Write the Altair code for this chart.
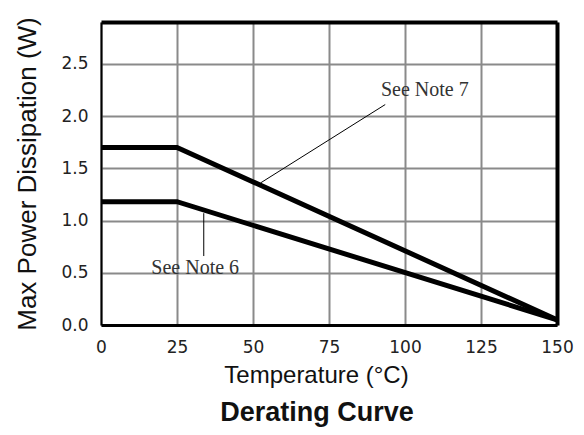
import altair as alt
import pandas as pd

# ---- data ----
temp_c = [0, 25, 150]
note7_w = [1.70, 1.70, 0.05]
note6_w = [1.18, 1.18, 0.05]
series_names = ["See Note 7", "See Note 6"]

x_ticks = [0, 25, 50, 75, 100, 125, 150]
y_ticks = [0.0, 0.5, 1.0, 1.5, 2.0, 2.5]

note_text = ["See Note 7", "See Note 6"]
note_x = [106.5, 31.0]
note_y = [2.25, 0.545]

leader_x = [52.5, 33.8]
leader_y = [1.36, 1.07]
leader_x2 = [93.5, 33.8]
leader_y2 = [2.11, 0.66]

rows = []
for name, vals in zip(series_names, [note7_w, note6_w]):
    for t, p in zip(temp_c, vals):
        rows.append({"series": name, "temp": t, "power": p})
lines_df = pd.DataFrame(rows)
notes_df = pd.DataFrame({"text": note_text, "x": note_x, "y": note_y})
leaders_df = pd.DataFrame({"x": leader_x, "y": leader_y, "x2": leader_x2, "y2": leader_y2})

x_scale = alt.Scale(domain=[0, 150], nice=False, zero=False)
y_scale = alt.Scale(domain=[0, 2.9], nice=False)

GRID = "#8a8a8a"

x_axis = alt.Axis(
    orient="bottom", values=x_ticks, title="Temperature (°C)", grid=True, ticks=False,
    labelPadding=14, labelFlush=False, labelOverlap=False,
    domainWidth=3, domainColor="black", gridColor=GRID, gridWidth=2,
    labelFont="DejaVu Sans", labelFontSize=17, labelColor="#222",
    titleFont="Liberation Sans", titleFontSize=24, titleFontWeight="normal",
    titleColor="#111", titlePadding=8, titleX=215,
)
y_axis = alt.Axis(
    orient="left", values=y_ticks, format=".1f", title="Max Power Dissipation (W)",
    grid=True, ticks=False, labelPadding=13, labelFlush=False, labelOverlap=False,
    domainWidth=2, domainColor="black", gridColor=GRID, gridWidth=2,
    labelFont="DejaVu Sans", labelFontSize=17, labelColor="#222",
    titleFont="Liberation Sans", titleFontSize=26, titleFontWeight="normal",
    titleColor="#111", titlePadding=20,
)

lines = alt.Chart(lines_df).mark_line(color="black", strokeWidth=5, strokeJoin="miter").encode(
    x=alt.X("temp:Q", scale=x_scale, axis=x_axis),
    y=alt.Y("power:Q", scale=y_scale, axis=y_axis),
    detail="series:N",
)

border_axis = dict(
    labels=False, ticks=False, grid=False, title=None,
    domainWidth=4, domainColor="black",
)
border = alt.Chart(lines_df).mark_line(opacity=0).encode(
    x=alt.X("temp:Q", scale=x_scale, axis=alt.Axis(orient="top", **border_axis)),
    y=alt.Y("power:Q", scale=y_scale, axis=alt.Axis(orient="right", **border_axis)),
)

leaders = alt.Chart(leaders_df).mark_rule(color="black", strokeWidth=1).encode(
    x=alt.X("x:Q", scale=x_scale, axis=None),
    y=alt.Y("y:Q", scale=y_scale, axis=None),
    x2="x2:Q",
    y2="y2:Q",
)

notes = alt.Chart(notes_df).mark_text(
    font="Liberation Serif", fontSize=20, color="#333", align="center", baseline="middle"
).encode(
    x=alt.X("x:Q", scale=x_scale, axis=None),
    y=alt.Y("y:Q", scale=y_scale, axis=None),
    text="text:N",
)

chart = alt.layer(lines, leaders, notes, border).resolve_axis(
    x="independent", y="independent"
).properties(
    width=456,
    height=303,
    autosize=alt.AutoSizeParams(type="none"),
    padding={"left": 93, "top": 14, "right": 19, "bottom": 102},
    title=alt.TitleParams(
        "Derating Curve", orient="bottom", anchor="middle", font="Liberation Sans",
        fontSize=27, fontWeight="bold", color="#111", offset=13, dx=-12,
    ),
    background="white",
).configure_view(stroke=None)

chart.save("out.html", embed_options={"renderer": "svg", "actions": False})
